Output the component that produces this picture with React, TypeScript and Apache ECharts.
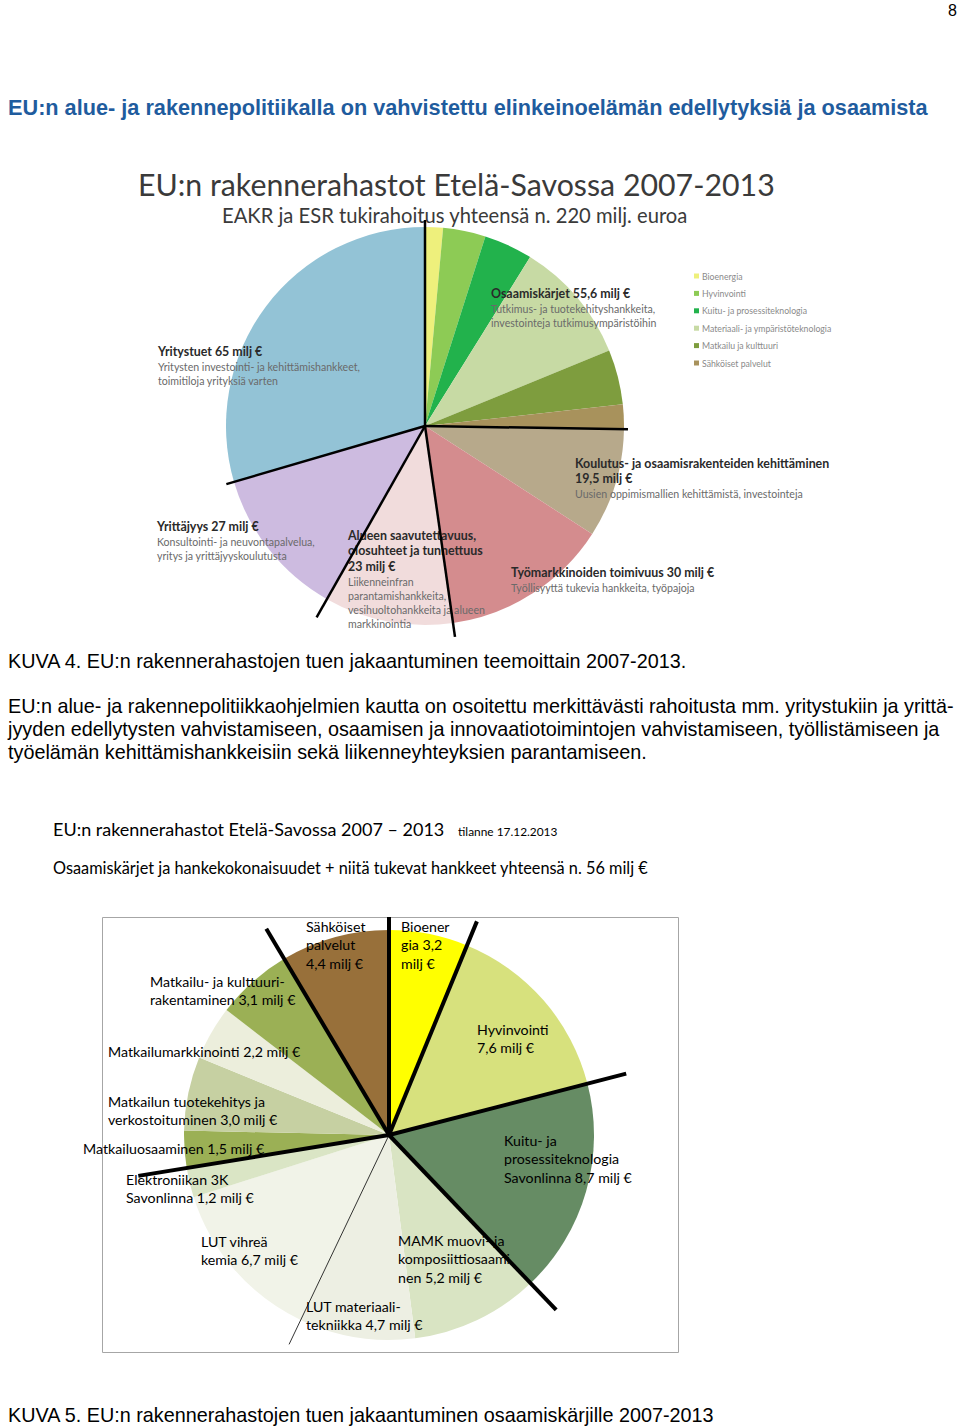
import React, { useEffect, useRef } from 'react';
import * as echarts from 'echarts';

// ---------- Top pie (KUVA 4) ----------
const topCategories = [
  'Bioenergia',
  'Hyvinvointi',
  'Kuitu- ja prosessiteknologia',
  'Materiaali- ja ympäristöteknologia',
  'Matkailu ja kulttuuri',
  'Sähköiset palvelut',
  'Koulutus- ja osaamisrakenteiden kehittäminen',
  'Työmarkkinoiden toimivuus',
  'Alueen saavutettavuus, olosuhteet ja tunnettuus',
  'Yrittäjyys',
  'Yritystuet',
];
const topValues = [3.2, 7.6, 8.7, 21.9, 9.8, 4.4, 19.5, 30, 23, 27, 65];
const topColors = [
  '#EEF07C', '#8DCB55', '#22B24C', '#C7DAA4', '#7E9D3E', '#A8925C',
  '#B7A98B', '#D48C8E', '#F1DCDC', '#CDBBE0', '#93C3D6',
];
const topLegendItems = topCategories.slice(0, 6);
const topLineBoundaries = [0, 6, 8, 9, 10];
const topLineLengths = [206, 203, 213, 220, 207];

const topTitle = 'EU:n rakennerahastot Etelä-Savossa 2007-2013';
const topSubtitle = 'EAKR ja ESR tukirahoitus yhteensä n. 220 milj. euroa';

// label blocks: [bold lines, normal lines]
const topLabelBold = [
  ['Yritystuet 65 milj €'],
  ['Osaamiskärjet 55,6 milj €'],
  ['Koulutus- ja osaamisrakenteiden kehittäminen', '19,5 milj €'],
  ['Yrittäjyys 27 milj €'],
  ['Alueen saavutettavuus,', 'olosuhteet ja tunnettuus', '23 milj €'],
  ['Työmarkkinoiden toimivuus 30 milj €'],
];
const topLabelSub = [
  ['Yritysten investointi- ja kehittämishankkeet,', 'toimitiloja yrityksiä varten'],
  ['Tutkimus- ja tuotekehityshankkeita,', 'investointeja tutkimusympäristöihin'],
  ['Uusien oppimismallien kehittämistä, investointeja'],
  ['Konsultointi- ja neuvontapalvelua,', 'yritys ja yrittäjyyskoulutusta'],
  ['Liikenneinfran', 'parantamishankkeita,', 'vesihuoltohankkeita ja alueen', 'markkinointia'],
  ['Työllisyyttä tukevia hankkeita, työpajoja'],
];
const topLabelPos = [
  [158, 351],
  [491, 293],
  [575, 463],
  [157, 526],
  [348, 535],
  [511, 572],
];

// ---------- Bottom pie (KUVA 5) ----------
const bottomCategories = [
  'Bioenergia 3,2 milj €',
  'Hyvinvointi 7,6 milj €',
  'Kuitu- ja prosessiteknologia Savonlinna 8,7 milj €',
  'MAMK muovi- ja komposiittiosaaminen 5,2 milj €',
  'LUT materiaalitekniikka 4,7 milj €',
  'LUT vihreä kemia 6,7 milj €',
  'Elektroniikan 3K Savonlinna 1,2 milj €',
  'Matkailuosaaminen 1,5 milj €',
  'Matkailun tuotekehitys ja verkostoituminen 3,0 milj €',
  'Matkailumarkkinointi 2,2 milj €',
  'Matkailu- ja kulttuurirakentaminen 3,1 milj €',
  'Sähköiset palvelut 4,4 milj €',
];
const bottomValues = [3.2, 7.6, 8.7, 5.2, 4.7, 6.7, 1.2, 1.5, 3.0, 2.2, 3.1, 4.4];
const bottomLabels = [
  'Bioener\ngia 3,2\nmilj €',
  'Hyvinvointi\n7,6 milj €',
  'Kuitu- ja\nprosessiteknologia\nSavonlinna 8,7 milj €',
  'MAMK muovi- ja\nkomposiittiosaami\nnen 5,2 milj €',
  'LUT materiaali-\ntekniikka 4,7 milj €',
  'LUT vihreä\nkemia 6,7 milj €',
  'Elektroniikan 3K\nSavonlinna 1,2 milj €',
  'Matkailuosaaminen 1,5 milj €',
  'Matkailun tuotekehitys ja\nverkostoituminen 3,0 milj €',
  'Matkailumarkkinointi 2,2 milj €',
  'Matkailu- ja kulttuuri-\nrakentaminen 3,1 milj €',
  'Sähköiset\npalvelut\n4,4 milj €',
];
const bottomColors = [
  '#FFFF00', '#D7E17D', '#668C64', '#D9E4C3', '#EDEFE3', '#F1F3E8',
  '#DAE5C5', '#9BB055', '#C6D0A2', '#ECEEDC', '#9BB055', '#98703A',
];
const bottomLabelPos = [
  [401, 917], [477, 1020], [504, 1131], [398, 1231], [306, 1297], [201, 1232],
  [126, 1170], [83, 1139], [108, 1092], [108, 1042], [150, 972], [306, 917],
];
const bottomThickBoundaries = [0, 1, 2, 3, 7, 11];
const bottomThickLengths = [218, 231, 245, 242, 254, 240];
const bottomThinBoundaries = [5];
const bottomThinLengths = [232];

const bottomTitle = 'EU:n rakennerahastot Etelä-Savossa 2007 – 2013';
const bottomTitleNote = 'tilanne 17.12.2013';
const bottomSubtitle = 'Osaamiskärjet ja hankekokonaisuudet + niitä tukevat hankkeet yhteensä n. 56 milj €';

// ---------- Document text ----------
const pageNumber = '8';
const heading = 'EU:n alue- ja rakennepolitiikalla on vahvistettu elinkeinoelämän edellytyksiä ja osaamista';
const caption4 = 'KUVA 4. EU:n rakennerahastojen tuen jakaantuminen teemoittain 2007-2013.';
const paragraph = [
  'EU:n alue- ja rakennepolitiikkaohjelmien kautta on osoitettu merkittävästi rahoitusta mm. yritystukiin ja yrittä-',
  'jyyden edellytysten vahvistamiseen, osaamisen ja innovaatiotoimintojen vahvistamiseen, työllistämiseen ja',
  'työelämän kehittämishankkeisiin sekä liikenneyhteyksien parantamiseen.',
];
const caption5 = 'KUVA 5. EU:n rakennerahastojen tuen jakaantuminen osaamiskärjille 2007-2013';

const ARIAL = '"Liberation Sans", Arial, sans-serif';
const CAL = 'Lato, "Open Sans", sans-serif';

function txt(text: string, x: number, y: number, size: number, fill: string, family: string, weight = 'normal', align = 'left') {
  return {
    type: 'text',
    z: 50,
    silent: true,
    style: { text, x, y, fill, fontSize: size, fontFamily: family, fontWeight: weight, align, verticalAlign: 'middle' },
  };
}

function boundaryLines(values: number[], idxs: number[], lens: number[], cx: number, cy: number, width: number) {
  const total = values.reduce((a, b) => a + b, 0);
  const cum = [0];
  values.forEach((v) => cum.push(cum[cum.length - 1] + v));
  return idxs.map((k, i) => {
    const a = (cum[k] / total) * Math.PI * 2;
    return {
      type: 'line',
      z: 100,
      silent: true,
      shape: { x1: cx, y1: cy, x2: cx + lens[i] * Math.sin(a), y2: cy - lens[i] * Math.cos(a) },
      style: { stroke: '#000', lineWidth: width, lineCap: 'butt' },
    };
  });
}

const TOP_C = [425, 426];
const BOT_C = [389, 1135];

export default function App() {
  const ref = useRef<HTMLDivElement>(null);
  useEffect(() => {
    if (!ref.current) return;
    const chart = echarts.init(ref.current, undefined, { renderer: 'svg' });

    const graphics: any[] = [];
    graphics.push(txt(pageNumber, 957, 10, 16, '#000', ARIAL, 'normal', 'right'));
    graphics.push(txt(heading, 8, 107, 21.7, '#1F5C9E', ARIAL, 'bold'));
    graphics.push(txt(topTitle, 138, 184, 30.3, '#3A3A3A', CAL));
    graphics.push(txt(topSubtitle, 222, 215, 20.2, '#3A3A3A', CAL));
    topLabelBold.forEach((lines, i) => {
      const [x, y0] = topLabelPos[i];
      let y = y0;
      lines.forEach((l) => {
        graphics.push(txt(l, x, y, 12.4, '#2A2A2A', CAL, 'bold'));
        y += 15.5;
      });
      topLabelSub[i].forEach((l) => {
        graphics.push(txt(l, x, y, 10.6, '#6A6A6A', CAL));
        y += 14;
      });
    });
    graphics.push(txt(caption4, 8, 661, 19.8, '#000', ARIAL));
    paragraph.forEach((l, i) => graphics.push(txt(l, 8, 706 + i * 23, 19.8, '#000', ARIAL)));
    graphics.push(txt(bottomTitle, 53, 829, 18, '#000', CAL));
    graphics.push(txt(bottomTitleNote, 458, 831, 11.9, '#000', CAL));
    graphics.push(txt(bottomSubtitle, 53, 867, 16.3, '#000', CAL));
    graphics.push(txt(caption5, 8, 1415, 19.8, '#000', ARIAL));
    graphics.push({
      type: 'rect',
      z: 1,
      silent: true,
      shape: { x: 102.5, y: 917.5, width: 576, height: 435 },
      style: { fill: 'none', stroke: '#A6A6A6', lineWidth: 1 },
    });
    graphics.push(...boundaryLines(topValues, topLineBoundaries, topLineLengths, TOP_C[0], TOP_C[1], 2.5));
    graphics.push(...boundaryLines(bottomValues, bottomThickBoundaries, bottomThickLengths, BOT_C[0], BOT_C[1], 4));
    graphics.push(...boundaryLines(bottomValues, bottomThinBoundaries, bottomThinLengths, BOT_C[0], BOT_C[1], 0.8));

    chart.setOption({
      animation: false,
      backgroundColor: '#fff',
      legend: {
        data: topLegendItems,
        orient: 'vertical',
        left: 689,
        top: 266,
        itemWidth: 5,
        itemHeight: 5,
        itemGap: 7.4,
        icon: 'rect',
        selectedMode: false,
        textStyle: { fontSize: 8.7, color: '#8A8A8A', fontFamily: CAL, lineHeight: 10, padding: [0, 0, 0, -2] },
      },
      graphic: { elements: graphics },
      series: [
        {
          type: 'pie',
          name: 'top',
          center: TOP_C,
          radius: 199,
          startAngle: 90,
          clockwise: true,
          silent: true,
          label: { show: false },
          labelLine: { show: false },
          emphasis: { disabled: true },
          itemStyle: { borderWidth: 0 },
          data: topCategories.map((n, i) => ({ name: n, value: topValues[i], itemStyle: { color: topColors[i] } })),
        },
        {
          type: 'pie',
          name: 'bottom',
          center: BOT_C,
          radius: 205,
          startAngle: 90,
          clockwise: true,
          silent: true,
          avoidLabelOverlap: false,
          emphasis: { disabled: true },
          itemStyle: { borderWidth: 0 },
          label: {
            show: true,
            position: 'inside',
            formatter: (p: any) => bottomLabels[p.dataIndex],
            fontFamily: CAL,
            fontSize: 14.2,
            lineHeight: 18.5,
            color: '#000',
          },
          labelLine: { show: false },
          labelLayout: (p: any) => ({
            x: bottomLabelPos[p.dataIndex][0],
            y: bottomLabelPos[p.dataIndex][1],
            align: 'left',
            verticalAlign: 'top',
          }),
          data: bottomCategories.map((n, i) => ({ name: n, value: bottomValues[i], itemStyle: { color: bottomColors[i] } })),
        },
      ],
    });
    return () => chart.dispose();
  }, []);
  return <div ref={ref} style={{ position: 'absolute', left: 0, top: 0, width: 960, height: 1426 }} />;
}
